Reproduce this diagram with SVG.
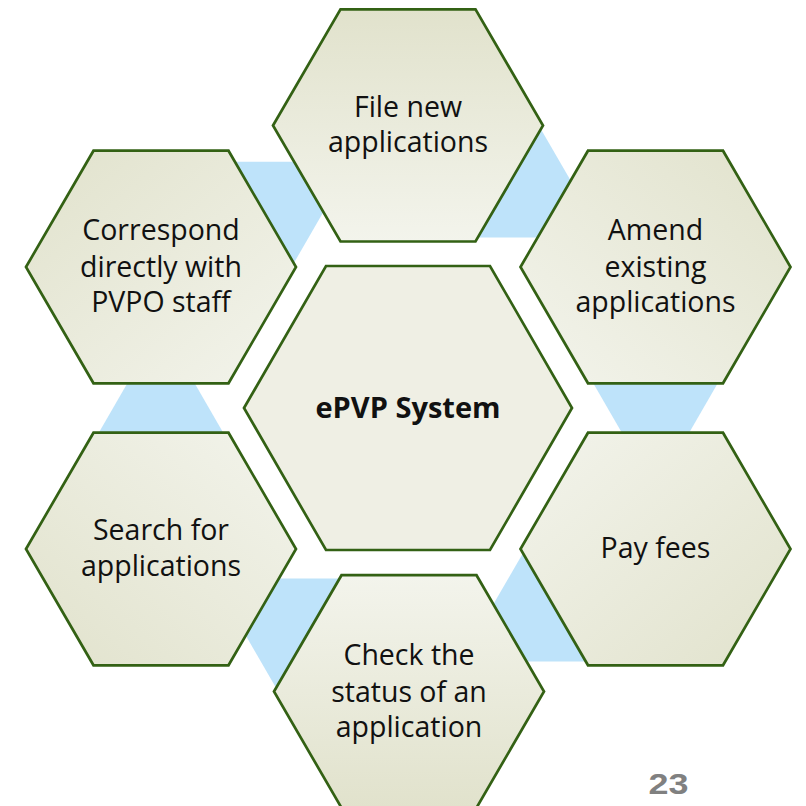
<svg xmlns="http://www.w3.org/2000/svg" width="806" height="806" viewBox="0 0 806 806">
  <style>
    .hex { stroke: #336114; stroke-width: 2.7; stroke-linejoin: miter; }
    .link { fill: #BEE3FA; stroke: none; }
    .label { font-family: "Open Sans", "Liberation Sans", sans-serif; font-size: 28.5px; fill: #111111; text-anchor: middle; }
    .hub { font-family: "Open Sans", "Liberation Sans", sans-serif; font-size: 29px; font-weight: bold; fill: #111111; text-anchor: middle; }
    .page { font-family: "Liberation Sans", Arial, sans-serif; font-size: 29px; font-weight: bold; fill: #808080; }
  </style>
  <defs>
    <!-- shared shading: darker on the outer side of each petal -->
    <linearGradient id="shade" x1="0" y1="0" x2="0" y2="1">
      <stop offset="0" stop-color="#E1E2CC"/>
      <stop offset="1" stop-color="#F3F4EC"/>
    </linearGradient>
    <linearGradient id="g-top" href="#shade" x1="0" y1="0" x2="0" y2="1"/>
    <linearGradient id="g-bottom" href="#shade" x1="0" y1="1" x2="0" y2="0"/>
    <linearGradient id="g-tl" href="#shade" x1="0" y1="0" x2="1" y2="1"/>
    <linearGradient id="g-tr" href="#shade" x1="1" y1="0" x2="0" y2="1"/>
    <linearGradient id="g-bl" href="#shade" x1="0" y1="1" x2="1" y2="0"/>
    <linearGradient id="g-br" href="#shade" x1="1" y1="1" x2="0" y2="0"/>
  </defs>

  <rect width="806" height="806" fill="#FFFFFF"/>

  <!-- triangular links between neighbouring petals -->
  <g id="connectors">
    <polygon class="link" points="161,325 232.9,449.5 89.1,449.5"/>
    <polygon class="link" points="212.9,578.5 356.7,578.5 284.8,703"/>
    <polygon class="link" points="532,537.5 603.9,661.5 460.1,661.5"/>
    <polygon class="link" points="583.6,366.5 727.4,366.5 655.5,491"/>
    <polygon class="link" points="531.8,113.5 603.7,237.5 459.9,237.5"/>
    <polygon class="link" points="216.6,161.7 352.4,161.7 284.5,279.3"/>
  </g>

  <g id="node-file">
    <polygon class="hex" fill="url(#g-top)" points="273,125.5 340.5,9.3 475.5,9.3 543,125.5 475.5,241.5 340.5,241.5"/>
    <text class="label" x="408" y="116.5">File new</text>
    <text class="label" x="408" y="152">applications</text>
  </g>

  <g id="node-correspond">
    <polygon class="hex" fill="url(#g-tl)" points="26,267 93.5,150.7 228.5,150.7 296,267 228.5,383.3 93.5,383.3"/>
    <text class="label" x="161" y="240">Correspond</text>
    <text class="label" x="161" y="276.5">directly with</text>
    <text class="label" x="161" y="312">PVPO staff</text>
  </g>

  <g id="node-amend">
    <polygon class="hex" fill="url(#g-tr)" points="520.5,267 588,150.7 723,150.7 790.5,267 723,383.3 588,383.3"/>
    <text class="label" x="655.5" y="240">Amend</text>
    <text class="label" x="655.5" y="276.5">existing</text>
    <text class="label" x="655.5" y="312">applications</text>
  </g>

  <g id="node-hub">
    <polygon class="hex" fill="#EFEFE4" points="244,408 326,266 490,266 572,408 490,550 326,550"/>
    <text class="hub" x="408" y="417.5">ePVP System</text>
  </g>

  <g id="node-search">
    <polygon class="hex" fill="url(#g-bl)" points="26,549 93.5,432.7 228.5,432.7 296,549 228.5,665.3 93.5,665.3"/>
    <text class="label" x="161" y="540">Search for</text>
    <text class="label" x="161" y="576">applications</text>
  </g>

  <g id="node-fees">
    <polygon class="hex" fill="url(#g-br)" points="520.5,549 588,432.7 723,432.7 790.5,549 723,665.3 588,665.3"/>
    <text class="label" x="655.5" y="557.5">Pay fees</text>
  </g>

  <g id="node-status">
    <polygon class="hex" fill="url(#g-bottom)" points="274,691.5 341.5,575.2 476.5,575.2 544,691.5 476.5,807.8 341.5,807.8"/>
    <text class="label" x="409" y="665">Check the</text>
    <text class="label" x="409" y="701.5">status of an</text>
    <text class="label" x="409" y="737">application</text>
  </g>

  <text class="page" x="648.5" y="793.5" textLength="40" lengthAdjust="spacingAndGlyphs">23</text>
</svg>
